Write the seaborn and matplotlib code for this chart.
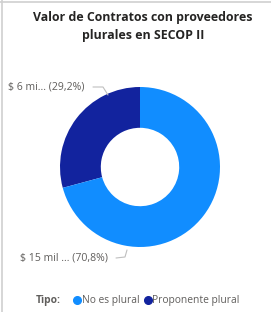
import matplotlib
matplotlib.use("Agg")
import matplotlib.pyplot as plt
import seaborn as sns
import numpy as np
from matplotlib.lines import Line2D

sns.set_theme(style="white")
plt.rcParams['font.family'] = ['Open Sans', 'DejaVu Sans']

categories = ["Proponente plural", "No es plural"]
values = [29.2, 70.8]
value_labels = ["$ 6 mi...", "$ 15 mil ..."]
pct_labels = ["(29,2%)", "(70,8%)"]
colors = ["#12239E", "#118DFF"]
legend_order = ["No es plural", "Proponente plural"]

W, H = 271, 312
fig = plt.figure(figsize=(W / 100, H / 100), dpi=100)
fig.patch.set_facecolor("white")

cx, cy, r = 140, 167, 80
ax = fig.add_axes([(cx - r) / W, 1 - (cy + r) / H, 2 * r / W, 2 * r / H])
wedges, _ = ax.pie(values, colors=colors, startangle=90, counterclock=True,
                   radius=1, wedgeprops=dict(width=0.51, linewidth=0))
ax.set_xlim(-1, 1)
ax.set_ylim(-1, 1)
ax.set_aspect("auto")
ax.axis("off")

# frame lines (top and left)
fig.add_artist(Line2D([0, 1], [1 - 2 / H, 1 - 2 / H], color="#d0d0d0", lw=1.2))
fig.add_artist(Line2D([2 / W, 2 / W], [0, 1], color="#d0d0d0", lw=1.2))

# title
fig.text(143 / W, 1 - 17 / H, "Valor de Contratos con proveedores", ha="center", va="center",
         fontsize=8.9, fontweight="bold", color="#252423")
fig.text(143 / W, 1 - 35 / H, "plurales en SECOP II", ha="center", va="center",
         fontsize=8.9, fontweight="bold", color="#252423")

# data labels with leader lines
lab_col = "#605E5C"
line_col = "#BFBFBF"
fig.text(8 / W, 1 - 87 / H, f"{value_labels[0]} {pct_labels[0]}", ha="left", va="center",
         fontsize=7.6, color=lab_col)
fig.add_artist(Line2D([93 / W, 103 / W, 108 / W], [1 - 87 / H, 1 - 87 / H, 1 - 95 / H],
                      color=line_col, lw=0.8))
fig.text(20 / W, 1 - 258 / H, f"{value_labels[1]} {pct_labels[1]}", ha="left", va="center",
         fontsize=7.6, color=lab_col)
fig.add_artist(Line2D([116 / W, 125 / W, 127 / W], [1 - 258 / H, 1 - 257 / H, 1 - 250 / H],
                      color=line_col, lw=0.8))

# legend
fig.text(36 / W, 1 - 301 / H, "Tipo:", ha="left", va="center", fontsize=7.4,
         fontweight="bold", color="#605E5C")
cmap = dict(zip(categories, colors))
handles = [Line2D([0], [0], marker="o", ls="", color=cmap[c], markersize=5.5) for c in legend_order]
fig.legend(handles, legend_order, loc="center left", bbox_to_anchor=(69 / W, 1 - 301 / H),
           ncol=2, frameon=False, fontsize=7.4, handlelength=0.6, handletextpad=0.15,
           columnspacing=0.5, borderpad=0, labelcolor="#605E5C")

fig.savefig("out.png", dpi=100, facecolor="white")
